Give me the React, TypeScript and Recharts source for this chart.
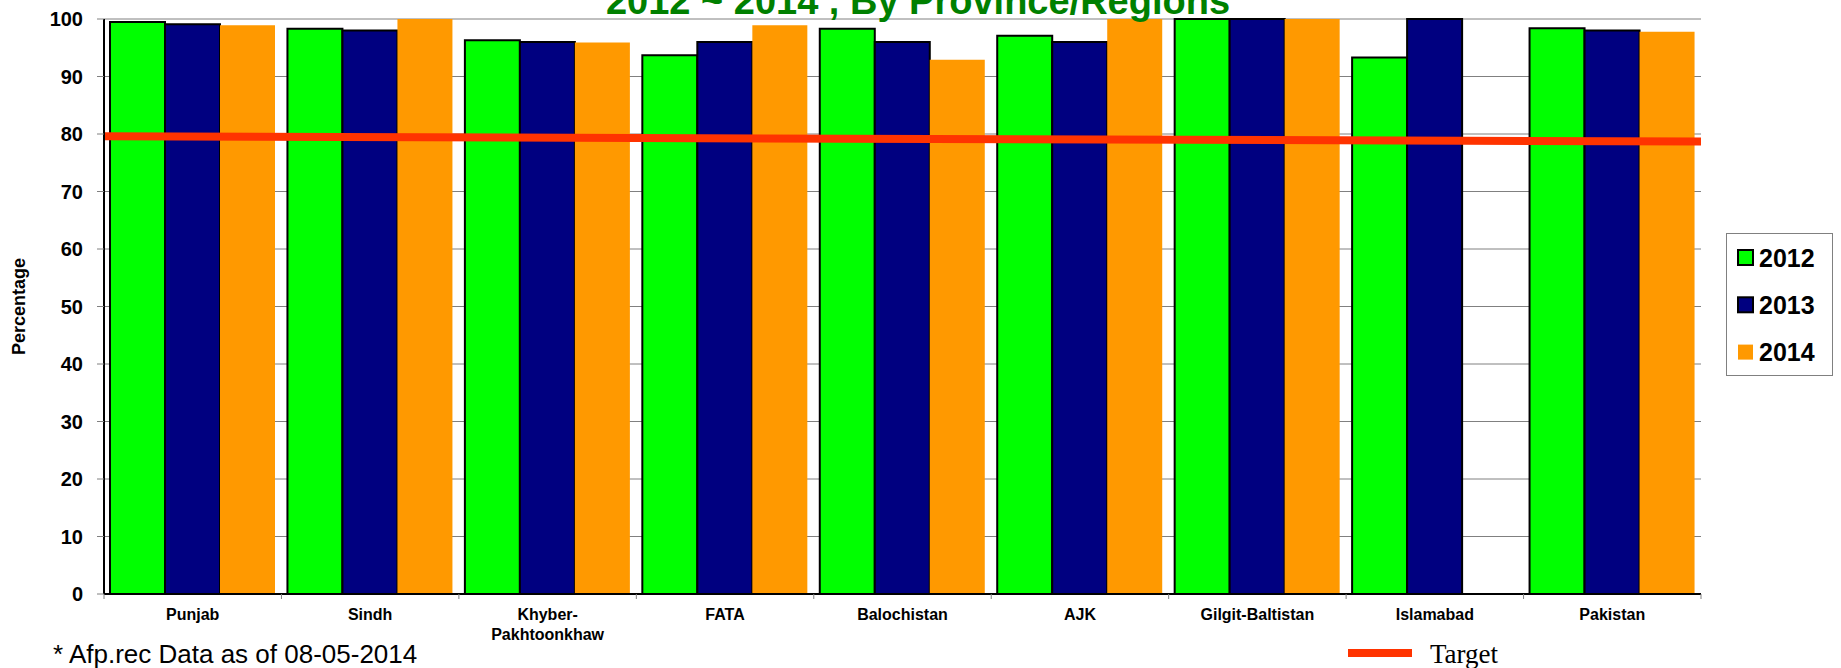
import React from 'react';
import {
  ComposedChart,
  Bar,
  Line,
  XAxis,
  YAxis,
  CartesianGrid,
  Legend,
} from 'recharts';

const regions = [
  'Punjab',
  'Sindh',
  'Khyber-Pakhtoonkhaw',
  'FATA',
  'Balochistan',
  'AJK',
  'Gilgit-Baltistan',
  'Islamabad',
  'Pakistan',
];

const regionLabels = [
  ['Punjab'],
  ['Sindh'],
  ['Khyber-', 'Pakhtoonkhaw'],
  ['FATA'],
  ['Balochistan'],
  ['AJK'],
  ['Gilgit-Baltistan'],
  ['Islamabad'],
  ['Pakistan'],
];

const values2012 = [99.5, 98.3, 96.3, 93.7, 98.3, 97.1, 100, 93.3, 98.4];
const values2013 = [99.1, 98.0, 96.0, 96.0, 96.0, 96.0, 100, 100, 98.0];
const values2014 = [98.9, 100, 95.9, 98.9, 92.9, 100, 100, null, 97.8];

const yTicks = [0, 10, 20, 30, 40, 50, 60, 70, 80, 90, 100];

// the target line runs across the whole plot, from left edge (0) to right edge (1)
const targetPos = [0, 1];
const targetValues = [79.6, 78.7];

const title = '2012 ~ 2014 , By Province/Regions';
const footnote = '* Afp.rec Data as of 08-05-2014';

const series = [
  { key: 'y2012', name: '2012', color: '#00FF00', outline: true },
  { key: 'y2013', name: '2013', color: '#000080', outline: true },
  { key: 'y2014', name: '2014', color: '#FF9900', outline: false },
];

const data = regions.map((name, i) => ({
  name,
  y2012: values2012[i],
  y2013: values2013[i],
  y2014: values2014[i],
}));

const targetData = targetPos.map((pos, i) => ({ pos, target: targetValues[i] }));

const SANS = '"Liberation Sans", Arial, sans-serif';
const SERIF = '"Liberation Serif", "Times New Roman", serif';

const RegionTick = (props: any) => {
  const { x, y, payload, index } = props;
  const lines = regionLabels[index] ?? [String(payload.value)];
  const half = payload && payload.offset > 0 ? payload.offset : 88.7;
  return (
    <g>
      <line x1={x - half} x2={x - half} y1={y} y2={y + 5} stroke="#808080" />
      {index === regions.length - 1 && (
        <line x1={x + half} x2={x + half} y1={y} y2={y + 5} stroke="#808080" />
      )}
      <text
        x={x}
        y={y + 26}
        textAnchor="middle"
        fontFamily={SANS}
        fontSize={16}
        fontWeight="bold"
        fill="#000"
      >
        {lines.map((l: string, i: number) => (
          <tspan key={i} x={x} dy={i === 0 ? 0 : 20}>
            {l}
          </tspan>
        ))}
      </text>
    </g>
  );
};

const Overlay = () => (
  <svg
    width={1841}
    height={668}
    style={{ position: 'absolute', left: 0, top: 0, overflow: 'hidden' }}
  >
    <text
      x={918}
      y={14}
      textAnchor="middle"
      fontFamily={SANS}
      fontSize={38}
      fontWeight="bold"
      fill="#008000"
    >
      {title}
    </text>
    <rect x={1726.5} y={233.5} width={106} height={142} fill="#fff" stroke="#808080" />
    {series.map((s, i) => (
      <g key={s.key}>
        <rect
          x={1738}
          y={250 + i * 47.3}
          width={15}
          height={15}
          fill={s.color}
          stroke={s.outline ? '#000' : 'none'}
          strokeWidth={2}
        />
        <text
          x={1759}
          y={266.5 + i * 47.3}
          fontFamily={SANS}
          fontSize={25}
          fontWeight="bold"
          fill="#000"
        >
          {s.name}
        </text>
      </g>
    ))}
    <rect x={1348} y={649} width={64} height={8} fill="#FF3300" />
    <text x={1430} y={663} fontFamily={SERIF} fontSize={27} fill="#000">
      Target
    </text>
    <text x={53} y={663} fontFamily={SANS} fontSize={26} fill="#000">
      {footnote}
    </text>
  </svg>
);

export default function App() {
  return (
    <div style={{ width: 1841, height: 668, overflow: 'hidden', position: 'relative' }}>
      <style>{'body{margin:0}'}</style>
      <ComposedChart
        width={1841}
        height={668}
        data={data}
        margin={{ top: 19, right: 140, bottom: 0, left: 0 }}
        barCategoryGap={6}
        barGap={0}
      >
        <CartesianGrid vertical={false} stroke="#808080" />
        <XAxis
          dataKey="name"
          interval={0}
          height={74}
          tickSize={0}
          tickMargin={0}
          tickLine={false}
          axisLine={{ stroke: '#000', strokeWidth: 2 }}
          tick={<RegionTick />}
        />
        <XAxis
          xAxisId="target"
          dataKey="pos"
          type="number"
          domain={[0, 1]}
          orientation="top"
          height={0}
          tick={false}
          tickLine={false}
          axisLine={{ stroke: '#000', strokeWidth: 2 }}
        />
        <YAxis
          domain={[0, 100]}
          ticks={yTicks}
          width={104}
          interval={0}
          tickSize={7}
          tickMargin={14}
          tickLine={{ stroke: '#808080' }}
          axisLine={{ stroke: '#000', strokeWidth: 2 }}
          tick={{ fontFamily: SANS, fontSize: 20, fontWeight: 'bold', fill: '#000' }}
          label={({ viewBox }: any) => (
            <text
              x={25}
              y={viewBox.y + viewBox.height / 2}
              transform={`rotate(-90 25 ${viewBox.y + viewBox.height / 2})`}
              textAnchor="middle"
              fontFamily={SANS}
              fontSize={18}
              fontWeight="bold"
              fill="#000"
            >
              Percentage
            </text>
          )}
        />
        <YAxis
          yAxisId="right"
          orientation="right"
          domain={[0, 100]}
          width={0}
          tick={false}
          tickLine={false}
          axisLine={{ stroke: '#000', strokeWidth: 2 }}
        />
        {series.map((s) => (
          <Bar
            key={s.key}
            dataKey={s.key}
            name={s.name}
            fill={s.color}
            stroke={s.outline ? '#000' : 'none'}
            strokeWidth={2}
            isAnimationActive={false}
          />
        ))}
        <Line
          xAxisId="target"
          data={targetData}
          dataKey="target"
          name="Target"
          stroke="#FF3300"
          strokeWidth={8}
          dot={false}
          activeDot={false}
          isAnimationActive={false}
        />
        <Legend
          layout="horizontal"
          verticalAlign="middle"
          align="center"
          wrapperStyle={{
            position: 'absolute',
            left: 0,
            top: 0,
            width: 1841,
            height: 668,
            pointerEvents: 'none',
          }}
          content={() => <Overlay />}
        />
      </ComposedChart>
    </div>
  );
}
